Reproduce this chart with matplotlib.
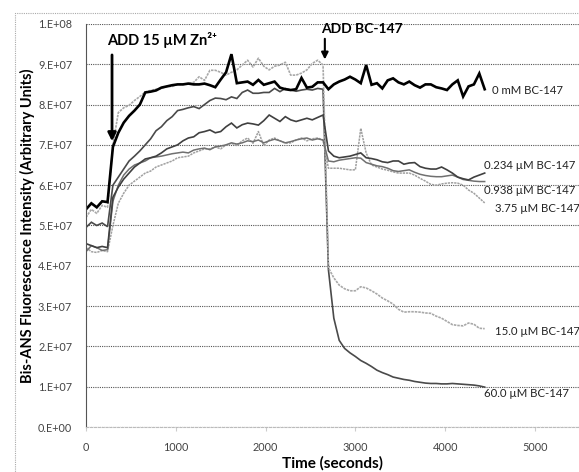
import numpy as np
import matplotlib
matplotlib.use("Agg")
import matplotlib.pyplot as plt
from matplotlib.patches import Rectangle
from matplotlib.ticker import FuncFormatter

plt.rcParams['font.family'] = ['Lato', 'DejaVu Sans']

# time in seconds (one reading per minute)
time_s = [0, 60, 120, 180, 240, 300, 360, 420, 480, 540, 600, 660, 720, 780, 840, 900,
          960, 1020, 1080, 1140, 1200, 1260, 1320, 1380, 1440, 1500, 1560, 1620, 1680,
          1740, 1800, 1860, 1920, 1980, 2040, 2100, 2160, 2220, 2280, 2340, 2400, 2460,
          2520, 2580, 2640, 2700, 2760, 2820, 2880, 2940, 3000, 3060, 3120, 3180, 3240,
          3300, 3360, 3420, 3480, 3540, 3600, 3660, 3720, 3780, 3840, 3900, 3960, 4020,
          4080, 4140, 4200, 4260, 4320, 4380, 4440]

# fluorescence, in units of 1E+07
bc_0mM = [5.40, 5.55, 5.45, 5.60, 5.58, 6.95, 7.30, 7.55, 7.72, 7.85, 8.00, 8.30, 8.32, 8.35,
          8.42, 8.45, 8.48, 8.50, 8.50, 8.52, 8.50, 8.50, 8.52, 8.48, 8.43, 8.62, 8.80, 9.25,
          8.53, 8.55, 8.57, 8.49, 8.61, 8.49, 8.53, 8.57, 8.42, 8.38, 8.36, 8.38, 8.66, 8.42,
          8.44, 8.55, 8.55, 8.38, 8.50, 8.57, 8.62, 8.69, 8.62, 8.53, 8.98, 8.49, 8.53, 8.40,
          8.60, 8.65, 8.55, 8.50, 8.57, 8.48, 8.42, 8.50, 8.50, 8.43, 8.40, 8.36, 8.50, 8.60,
          8.20, 8.45, 8.50, 8.77, 8.38]
bc_0234 = [4.55, 4.50, 4.45, 4.48, 4.45, 5.70, 5.95, 6.15, 6.30, 6.45, 6.55, 6.65, 6.68, 6.72,
           6.80, 6.90, 6.95, 7.00, 7.10, 7.17, 7.20, 7.30, 7.33, 7.37, 7.30, 7.33, 7.45, 7.54,
           7.42, 7.50, 7.54, 7.52, 7.49, 7.60, 7.74, 7.66, 7.58, 7.70, 7.62, 7.58, 7.62, 7.66,
           7.62, 7.68, 7.74, 6.85, 6.72, 6.68, 6.70, 6.72, 6.76, 6.80, 6.68, 6.66, 6.63, 6.58,
           6.56, 6.60, 6.60, 6.52, 6.55, 6.56, 6.46, 6.42, 6.40, 6.40, 6.45, 6.38, 6.30, 6.20,
           6.16, 6.13, 6.20, 6.25, 6.30]
bc_0938 = [4.35, 4.50, 4.45, 4.38, 4.40, 5.60, 6.00, 6.25, 6.40, 6.50, 6.55, 6.60, 6.68, 6.70,
           6.72, 6.75, 6.78, 6.80, 6.82, 6.80, 6.87, 6.90, 6.92, 6.88, 6.95, 6.97, 7.00, 7.05,
           7.02, 7.05, 7.10, 7.08, 7.12, 7.05, 7.10, 7.14, 7.10, 7.05, 7.08, 7.12, 7.15, 7.17,
           7.12, 7.15, 7.12, 6.60, 6.58, 6.62, 6.64, 6.66, 6.68, 6.67, 6.56, 6.52, 6.48, 6.46,
           6.42, 6.36, 6.34, 6.36, 6.38, 6.32, 6.27, 6.24, 6.22, 6.21, 6.21, 6.23, 6.25, 6.20,
           6.14, 6.12, 6.10, 6.09, 6.09]
bc_375 = [4.45, 4.35, 4.33, 4.38, 4.35, 5.00, 5.55, 5.80, 6.00, 6.10, 6.20, 6.30, 6.35, 6.45,
          6.50, 6.55, 6.60, 6.68, 6.70, 6.72, 6.80, 6.85, 6.90, 6.90, 6.95, 6.90, 7.00, 7.04,
          6.98, 7.10, 7.17, 7.04, 7.33, 6.98, 7.12, 7.17, 7.10, 7.04, 7.05, 7.12, 7.17, 7.10,
          7.15, 7.17, 7.12, 6.42, 6.42, 6.42, 6.40, 6.38, 6.38, 7.41, 6.80, 6.50, 6.45, 6.40,
          6.37, 6.33, 6.30, 6.30, 6.30, 6.25, 6.17, 6.10, 6.02, 6.00, 6.03, 6.05, 6.06, 6.05,
          6.00, 5.88, 5.80, 5.68, 5.56]
bc_15 = [5.20, 5.40, 5.30, 5.50, 5.45, 7.00, 7.80, 7.92, 7.98, 8.10, 8.20, 8.31, 8.35, 8.38,
         8.40, 8.45, 8.45, 8.50, 8.50, 8.52, 8.55, 8.69, 8.60, 8.85, 8.85, 8.80, 8.73, 8.80,
         8.86, 8.98, 9.10, 8.93, 9.15, 8.95, 8.86, 8.95, 8.98, 9.05, 8.73, 8.73, 8.78, 8.86,
         9.02, 9.10, 8.98, 3.95, 3.70, 3.52, 3.43, 3.38, 3.38, 3.48, 3.45, 3.38, 3.30, 3.20,
         3.13, 3.05, 2.92, 2.85, 2.86, 2.86, 2.85, 2.83, 2.82, 2.75, 2.70, 2.62, 2.54, 2.52,
         2.51, 2.58, 2.55, 2.45, 2.44]
bc_60 = [4.95, 5.08, 5.00, 5.06, 4.97, 6.00, 6.20, 6.40, 6.60, 6.72, 6.85, 7.00, 7.15, 7.35,
         7.45, 7.60, 7.70, 7.85, 7.88, 7.92, 7.95, 7.90, 8.00, 8.10, 8.16, 8.15, 8.12, 8.19,
         8.15, 8.30, 8.36, 8.28, 8.28, 8.30, 8.30, 8.40, 8.32, 8.40, 8.36, 8.33, 8.36, 8.38,
         8.36, 8.40, 8.38, 3.90, 2.70, 2.15, 1.95, 1.84, 1.75, 1.65, 1.58, 1.50, 1.41, 1.35,
         1.30, 1.24, 1.21, 1.18, 1.16, 1.13, 1.11, 1.09, 1.08, 1.08, 1.07, 1.07, 1.08, 1.07,
         1.06, 1.05, 1.04, 1.02, 0.99]

series = [
    (bc_60, "60.0 \u00b5M BC-147", 0.84),
    (bc_15, "15.0 \u00b5M BC-147", 2.36),
    (bc_375, "3.75 \u00b5M BC-147", 5.41),
    (bc_0938, "0.938 \u00b5M BC-147", 5.86),
    (bc_0234, "0.234 \u00b5M BC-147", 6.48),
    (bc_0mM, "0 mM BC-147", 8.36),
]
styles = [
    dict(color='#4a4a4a', lw=1.2),
    dict(color='#a8a8a8', lw=1.2, ls=(0, (1.5, 0.6))),
    dict(color='#a0a0a0', lw=1.1, ls=(0, (1.5, 0.6))),
    dict(color='#707070', lw=1.1),
    dict(color='#404040', lw=1.2),
    dict(color='black', lw=1.9),
]
label_x = [4430, 4550, 4550, 4430, 4430, 4520]

t = np.array(time_s)
fig = plt.figure(figsize=(5.79, 4.72), dpi=100)
ax = fig.add_axes([0.1485, 0.0953, 0.853, 0.854])

for (vals, name, ly), st, lx in zip(series, styles, label_x):
    ax.plot(t, np.array(vals) * 1e7, solid_joinstyle='miter', **st)
    ax.text(lx, ly * 1e7, name, fontsize=8.2, va='center', ha='left', color='#222222')

ax.set_xlim(0, 5500)
ax.set_ylim(0, 1e8)
ax.set_yticks(np.arange(0, 1.01e8, 1e7))
ax.set_xticks([0, 1000, 2000, 3000, 4000, 5000])
ax.yaxis.set_major_formatter(FuncFormatter(
    lambda v, p: "0.E+00" if v == 0 else f"{int(round(v / 10 ** int(np.floor(np.log10(v)))))}.E+{int(np.floor(np.log10(v))):02d}"))
ax.grid(axis='y', linestyle=(0, (1, 1)), color='#555555', lw=0.8)
ax.set_axisbelow(True)
for s in ['top', 'right']:
    ax.spines[s].set_visible(False)
ax.spines['left'].set_linestyle((0, (1, 1)))
ax.spines['left'].set_color('#555555')
ax.spines['left'].set_linewidth(0.8)
ax.spines['bottom'].set_linestyle((0, (2, 1.5)))
ax.spines['bottom'].set_color('#bbbbbb')
ax.spines['bottom'].set_linewidth(0.8)
ax.tick_params(axis='y', length=0, labelsize=7.8, labelcolor='#444444', pad=10)
ax.tick_params(axis='x', length=3, color='#cccccc', labelsize=7.8, labelcolor='#444444', pad=8)

ax.set_ylabel("Bis-ANS Fluorescence Intensity (Arbitrary Units)", fontsize=10.5,
              fontweight='bold', labelpad=2)
ax.set_xlabel("Time (seconds)", fontsize=11, fontweight='bold', labelpad=2)

# addition markers
ax.annotate("", xy=(290, 7.02e7), xytext=(290, 9.3e7),
            arrowprops=dict(arrowstyle='-|>', color='black', lw=2, mutation_scale=12))
ax.text(230, 9.6e7, "ADD 15 \u00b5M Zn\u00b2\u207a", fontsize=10.5, fontweight='bold', va='center')
ax.annotate("", xy=(2660, 9.05e7), xytext=(2660, 9.7e7),
            arrowprops=dict(arrowstyle='-|>', color='black', lw=1.5, mutation_scale=10))
ax.text(2620, 9.88e7, "ADD BC-147", fontsize=10, fontweight='bold', va='center')

# chart area border
fig.patches.append(Rectangle((15 / 579, -0.1), 1.2, (472 - 13) / 472 + 0.1,
                             transform=fig.transFigure, fill=False,
                             ls=(0, (1, 1)), ec='#aaaaaa', lw=0.8))

fig.savefig("out.png", dpi=100)
